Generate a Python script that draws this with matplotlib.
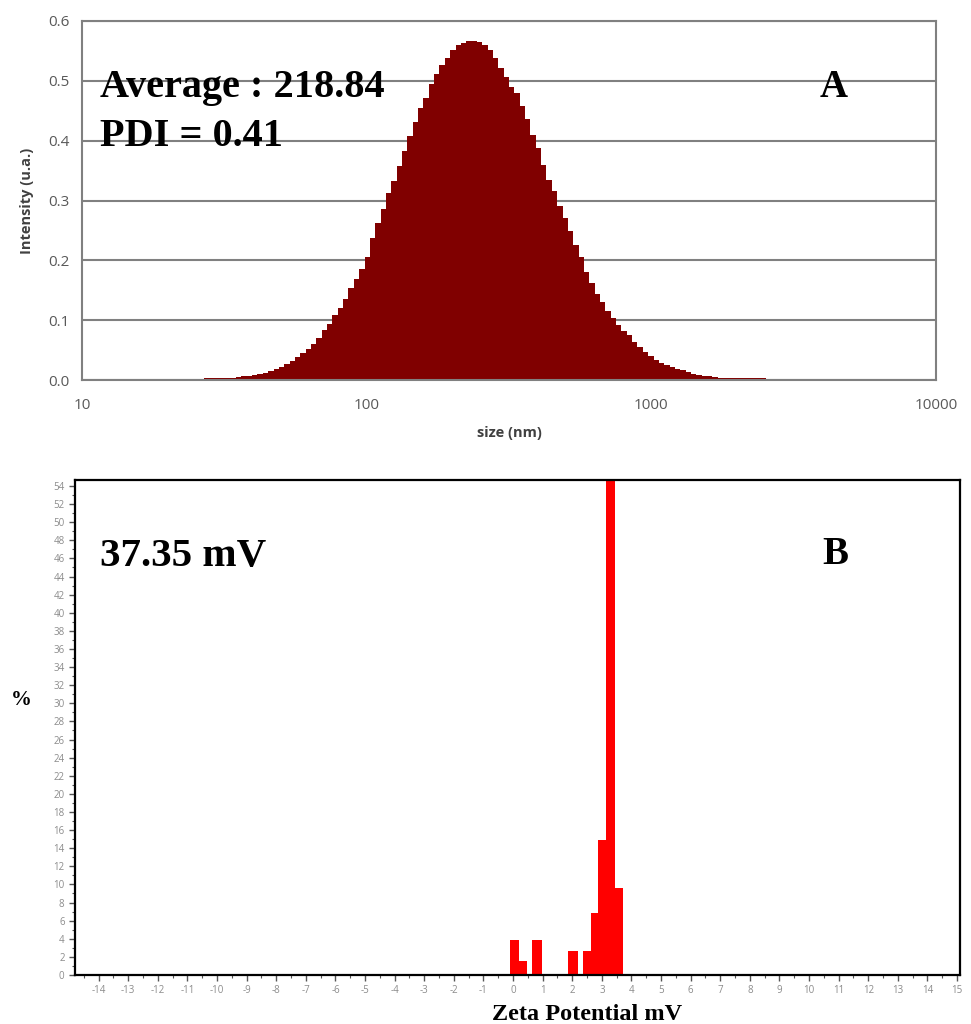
import numpy as np
import matplotlib
matplotlib.use("Agg")
import matplotlib.pyplot as plt
from matplotlib.ticker import FixedLocator, NullFormatter, MultipleLocator

plt.rcParams["axes.unicode_minus"] = False

# ---- Panel A: size distribution (log bins) ----
log_start = 1.4285      # log10 of first bin edge (~26.8 nm)
log_step = 0.0188       # bin width in decades
intensity = [
    0.003, 0.003, 0.003, 0.003, 0.004, 0.004, 0.005, 0.006, 0.007, 0.008,
    0.010, 0.012, 0.015, 0.019, 0.022, 0.027, 0.032, 0.038, 0.045, 0.052,
    0.060, 0.070, 0.083, 0.094, 0.109, 0.121, 0.136, 0.153, 0.168, 0.186,
    0.205, 0.238, 0.262, 0.286, 0.313, 0.332, 0.357, 0.383, 0.407, 0.432,
    0.454, 0.472, 0.495, 0.512, 0.526, 0.538, 0.552, 0.560, 0.564, 0.566,
    0.567, 0.565, 0.560, 0.552, 0.538, 0.522, 0.506, 0.490, 0.479, 0.458,
    0.437, 0.409, 0.388, 0.360, 0.335, 0.316, 0.290, 0.270, 0.249, 0.225,
    0.205, 0.181, 0.162, 0.144, 0.131, 0.115, 0.103, 0.092, 0.082, 0.075,
    0.064, 0.055, 0.047, 0.040, 0.034, 0.029, 0.025, 0.021, 0.018, 0.016,
    0.013, 0.010, 0.008, 0.007, 0.006, 0.005, 0.004, 0.004, 0.003, 0.003,
    0.003, 0.003, 0.003, 0.003, 0.003,
]
size_ticks = [10, 100, 1000, 10000]
intensity_ticks = [0.0, 0.1, 0.2, 0.3, 0.4, 0.5, 0.6]

# ---- Panel B: zeta potential distribution ----
zeta_left = [-0.10, 0.20, 0.64, 1.86, 2.36, 2.64, 2.87, 3.14, 3.45]
zeta_right = [0.20, 0.47, 0.98, 2.20, 2.64, 2.87, 3.14, 3.45, 3.72]
zeta_pct = [3.9, 1.5, 3.9, 2.7, 2.7, 6.8, 14.9, 60.0, 9.6]

W, H = 971, 1024
fig = plt.figure(figsize=(W / 100, H / 100), dpi=100)

def fx(px):
    return px / W

def fy(py):
    return 1 - py / H

sans = ["Open Sans", "DejaVu Sans"]
serif = ["Liberation Serif", "DejaVu Serif"]
gray = "#808080"

# Panel A
axA = fig.add_axes([fx(82), fy(380), fx(936) - fx(82), fy(21) - fy(380)])
n = len(intensity)
edges = 10 ** (log_start + log_step * np.arange(n + 1))
axA.bar(edges[:-1], intensity, width=np.diff(edges), align="edge",
        color="#800000", edgecolor="none", zorder=2)
axA.set_xscale("log")
axA.set_xlim(10, 10000)
axA.set_ylim(0, 0.6)
axA.xaxis.set_major_locator(FixedLocator(size_ticks))
axA.set_xticklabels([str(t) for t in size_ticks])
axA.xaxis.set_minor_formatter(NullFormatter())
axA.tick_params(axis="x", which="minor", length=0)
axA.set_yticks(intensity_ticks)
axA.set_yticklabels(["%.1f" % t for t in intensity_ticks])
axA.tick_params(axis="both", which="major", length=0, labelsize=11,
                labelcolor="#595959")
axA.tick_params(axis="x", pad=13)
axA.tick_params(axis="y", pad=9)
for lab in axA.get_xticklabels() + axA.get_yticklabels():
    lab.set_family(sans)
axA.grid(axis="y", color=gray, linewidth=1.5, zorder=1)
axA.set_axisbelow(True)
for s in axA.spines.values():
    s.set_color(gray)
    s.set_linewidth(1.5)
axA.set_xlabel("size (nm)", family=sans, fontweight="bold", fontsize=10.5,
               color="#404040", labelpad=9)
axA.set_ylabel("Intensity (u.a.)", family=sans, fontweight="bold", fontsize=10.5,
               color="#404040", labelpad=10)

fig.text(fx(100), fy(97), "Average : 218.84", family=serif, fontweight="bold",
         fontsize=29, va="baseline", ha="left")
fig.text(fx(100), fy(146), "PDI = 0.41", family=serif, fontweight="bold",
         fontsize=29, va="baseline", ha="left")
fig.text(fx(820), fy(97), "A", family=serif, fontweight="bold",
         fontsize=28, va="baseline", ha="left")

# Panel B
axB = fig.add_axes([fx(75), fy(975), fx(960) - fx(75), fy(480) - fy(975)])
axB.bar(zeta_left, zeta_pct, width=np.subtract(zeta_right, zeta_left),
        align="edge", color="#ff0000", edgecolor="none")
axB.set_xlim(-14.8, 15.1)
axB.set_ylim(0, 54.66)
axB.set_xticks(range(-14, 16))
axB.set_yticks(range(0, 55, 2))
axB.xaxis.set_minor_locator(MultipleLocator(0.5))
axB.yaxis.set_minor_locator(MultipleLocator(1))
axB.tick_params(axis="both", which="major", length=4, width=1, color="#555555",
                labelsize=7, labelcolor="#8c8c8c")
axB.tick_params(axis="both", which="minor", length=2, width=0.8, color="#555555")
for lab in axB.get_xticklabels() + axB.get_yticklabels():
    lab.set_family(sans)
for s in axB.spines.values():
    s.set_color("black")
    s.set_linewidth(1.6)

fig.text(fx(100), fy(566), "37.35 mV", family=serif, fontweight="bold",
         fontsize=29.5, va="baseline", ha="left")
fig.text(fx(822), fy(564), "B", family=serif, fontweight="bold",
         fontsize=28, va="baseline", ha="left")
fig.text(fx(21), fy(700), "%", family=serif, fontweight="bold",
         fontsize=15, va="center", ha="center")
fig.text(fx(492), fy(1020), "Zeta Potential mV", family=serif, fontweight="bold",
         fontsize=17.5, va="baseline", ha="left")

fig.savefig("out.png", dpi=100)
